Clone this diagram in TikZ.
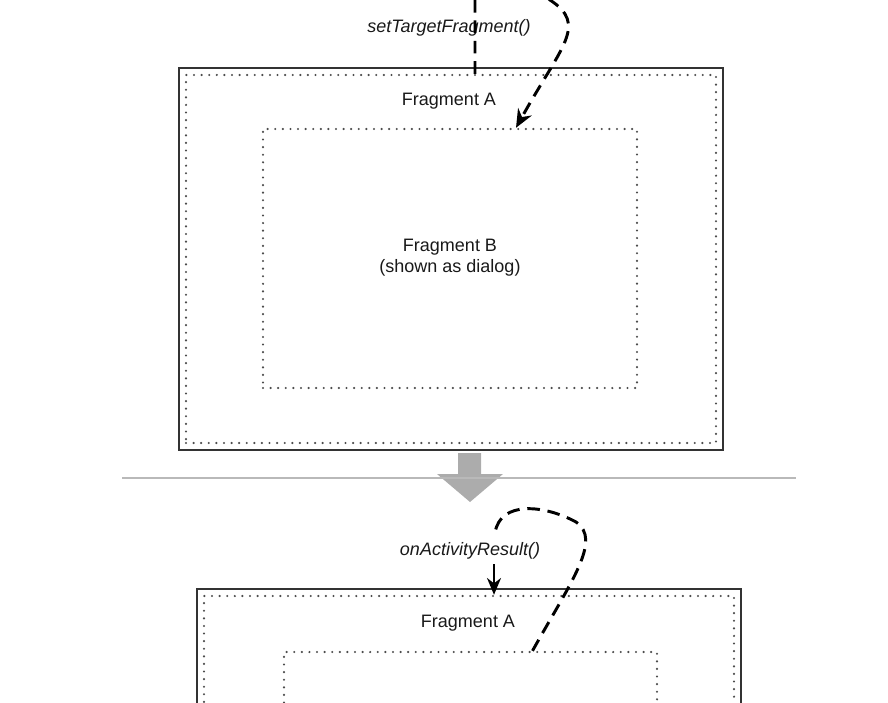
\documentclass[tikz,border=0pt]{standalone}
\usepackage{fontspec}
\setmainfont{Liberation Sans}
\usepackage{tikz}
\usetikzlibrary{calc,arrows.meta}

\tikzset{
  outerbox/.style={draw=black!80, line width=1.2pt, rectangle, inner sep=0pt},
  dotbox/.style={draw=black!70, line width=1.7pt, dash pattern=on 0pt off 5.4pt, line cap=round, rectangle, inner sep=0pt},
  callpath/.style={black, line width=2.1pt, dash pattern=on 9pt off 5.5pt},
  lbl/.style={font=\fontsize{12.8}{15}\selectfont, align=center, text=black!90},
  mlbl/.style={font=\fontsize{12.8}{15}\selectfont\itshape, text=black!90}
}

\begin{document}
\begin{tikzpicture}[x=0.025cm, y=-0.025cm]
\useasboundingbox (0,0) rectangle (888,703);
\clip (0,0) rectangle (888,703);
\def\u{0.025cm}
\node[outerbox, minimum width={544*\u}, minimum height={382*\u}] (outerT) at (451,259) {};
\node[dotbox, minimum width={530*\u}, minimum height={368*\u}] (fragAT) at (451,259) {};
\node[dotbox, minimum width={374*\u}, minimum height={259*\u}] (fragBT) at (450,258.5) {};
\node[lbl] (labAT) at (449,101) {Fragment A};
\node[lbl] (labBT) at (450,258) {Fragment B\\(shown as dialog)};
\node[mlbl] (callT) at (449,28) {setTargetFragment()};
\draw[callpath, -{Stealth[length=13pt, width=11pt]}] ($(fragAT.north)+(24,0)$) -- (475,-20)
  .. controls (475,-50) and (530,-20) .. (550,0)
  .. controls (588,25) and (562,45) .. ($(fragBT.north)+(66,0)$);
\fill[gray!65] (458,453) -- (481,453) -- (481,474) -- (503,474) -- (470,502) -- (437,474) -- (458,474) -- cycle;
\draw[gray!55, line width=2pt] (122,478) -- (796,478);
\node[outerbox, minimum width={544*\u}, minimum height={382*\u}] (outerB) at (469,780) {};
\node[dotbox, minimum width={530*\u}, minimum height={368*\u}] (fragAB) at (469,780) {};
\node[dotbox, minimum width={373*\u}, minimum height={259*\u}] (fragBB) at (470.5,781.5) {};
\node[lbl] (labAB) at (468,623) {Fragment A};
\node[mlbl] (callB) at (470,551) {onActivityResult()};
\draw[callpath] ($(fragBB.north)+(62,0)$) .. controls (572,580) and (602,540) .. (576,522)
  .. controls (545,505) and (500,500) .. (495,533);
\draw[black, line width=1.5pt, -{Stealth[length=12pt, width=10pt]}] ($(callB.south)+(24,0)$) -- ($(fragAB.north)+(25,0)$);
\end{tikzpicture}
\end{document}
